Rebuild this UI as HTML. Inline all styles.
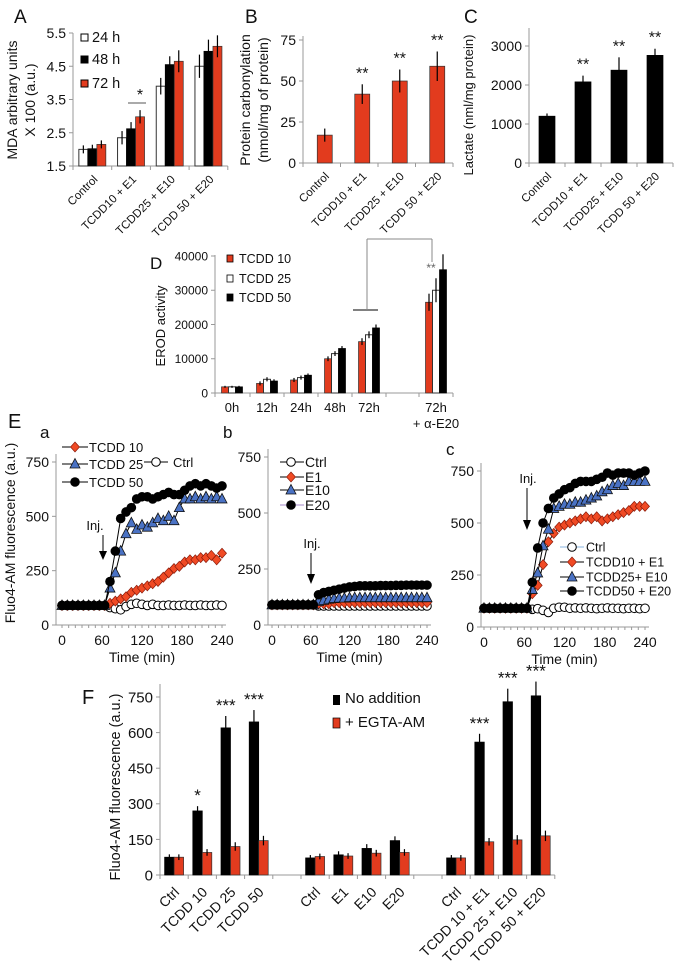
<!DOCTYPE html>
<html><head><meta charset="utf-8"><style>
html,body{margin:0;padding:0;background:#fff;}
svg{display:block;font-family:"Liberation Sans",Arial,sans-serif;}
</style></head><body>
<svg id="fig" width="675" height="973" viewBox="0 0 675 973" xmlns="http://www.w3.org/2000/svg"></svg>
<script>
// ---------- DATA ----------
const aCats=["Control","TCDD10 + E1","TCDD25 + E10","TCDD 50 + E20"];
const a24=[2.0,2.35,3.9,4.5], a48=[2.02,2.62,4.55,4.95], a72=[2.15,2.98,4.65,5.1];
const a24e=[0.12,0.2,0.25,0.35], a48e=[0.12,0.2,0.25,0.35], a72e=[0.12,0.2,0.33,0.33];
const aTicks=[1.5,2.5,3.5,4.5,5.5];
const bVals=[17,42,50,59], bErr=[4,6,7,9];
const bTicks=[0,25,50,75];
const cVals=[1200,2080,2380,2760], cErr=[70,160,330,170];
const cTicks=[0,1000,2000,3000];
const dCats=["0h","12h","24h","48h","72h"];
const d10=[1800,2800,3800,10000,15000,26500], d25=[1800,4000,4500,11500,17000,30000], d50=[1800,3500,5200,13000,19000,36000];
const d10e=[300,600,600,700,1000,2500], d25e=[300,600,600,700,1000,3500], d50e=[300,500,500,700,1000,4500];
const dTicks=[0,10000,20000,30000,40000];
const eTimes=[0,8,16,24,32,40,48,56,64,72,80,88,96,104,112,120,128,136,144,152,160,168,176,184,192,200,208,216,224,232,240];
const eTicks=[0,60,120,180,240], eYTicks=[0,250,500,750];
const B9=[90,90,90,90,90,90,90,90,90];
const aT50=B9.concat([200,340,490,520,540,580,590,590,580,590,600,610,600,600,620,640,650,640,650,640,630,640]);
const aT25=B9.concat([170,240,340,420,470,440,460,450,470,490,480,500,480,540,580,580,590,580,590,580,590,580]);
const aT10=B9.concat([100,110,120,130,150,160,170,180,190,200,220,240,260,270,290,300,300,310,310,320,300,330]);
const aCtrl=B9.concat([80,75,70,85,95,100,95,90,95,90,90,92,90,90,92,90,90,92,90,90,92,90]);
const bCtrl=B9.concat([85,85,85,85,85,85,85,85,85,85,85,85,85,85,85,85,85,85,85,85,85,85]);
const bE1=B9.concat([95,95,95,100,100,100,100,100,100,100,100,100,100,100,100,100,100,100,100,100,100,100]);
const bE10=B9.concat([105,110,115,118,120,120,122,122,122,122,122,122,122,122,122,122,122,122,122,122,122,122]);
const bE20=B9.concat([135,145,150,155,160,165,170,172,175,175,175,175,176,176,176,177,177,178,178,178,178,178]);
const cCtrl=B9.concat([85,88,80,70,90,95,95,90,92,90,92,90,88,90,92,90,90,88,90,90,88,90]);
const cT10=B9.concat([160,200,300,410,450,480,490,500,510,520,530,520,530,510,520,530,540,550,560,580,580,580]);
const cT25=B9.concat([180,260,390,470,570,580,590,590,600,600,610,620,630,650,660,680,690,680,700,700,700,700]);
const cT50=B9.concat([215,380,500,570,620,640,660,670,690,700,700,700,710,720,740,730,740,740,740,730,740,750]);
const fCats=["Ctrl","TCDD 10","TCDD 25","TCDD 50","","Ctrl","E1","E10","E20","","Ctrl","TCDD 10 + E1","TCDD 25 + E10","TCDD 50 + E20"];
const fNo=[75,270,620,645,null,72,85,112,145,null,72,560,730,755];
const fEg=[75,95,120,145,null,78,80,92,95,null,72,140,148,165];
const fNoE=[12,20,50,50,null,12,15,18,18,null,12,35,55,60];
const fEgE=[12,14,18,20,null,12,12,14,14,null,12,16,20,22];
const fStars=["","*","***","***","","","","","","","","***","***","***"];
const fTicks=[0,150,300,450,600,750];

// ---------- HELPERS ----------
const S=document.getElementById('fig'), NS='http://www.w3.org/2000/svg';
const RED='#e23b1e';
function mk(tag,attrs,name,txt){
  const el=document.createElementNS(NS,tag);
  for(const k in attrs) el.setAttribute(k,attrs[k]);
  
  
  if(txt!==undefined) el.textContent=txt;
  S.appendChild(el); return el;
}
function ln(x1,y1,x2,y2,name,c,w){return mk('line',{x1,y1,x2,y2,stroke:c||'#000','stroke-width':w||1},name);}
function tx(x,y,s,size,name,anchor,extra){return mk('text',Object.assign({x,y,'font-size':size,'text-anchor':anchor||'start',fill:'#111'},extra||{}),name,s);}
function bar(x,y0,y1,w,fill,name){
  const top=Math.min(y0,y1),h=Math.abs(y0-y1);
  return mk('rect',{x:x-w/2,y:top,width:w,height:h,fill,stroke:fill==='#000'?'#000':'#333','stroke-width':fill==='#fff'?1:0.7},name);
}
function err(x,yv,ye,name){ln(x,ye,x,yv,name,'#000',1.2);}
function yAxis(x,yTop,yBot,ticks,sc,name,fmt,size,tickLen){
  ln(x,yTop,x,yBot,name+'-line','#999',1);
  ticks.forEach(t=>{const y=sc(t);ln(x-(tickLen||4),y,x,y,name+'-tick','#999',1);
    tx(x-(tickLen||4)-3,y+size*0.36,fmt?fmt(t):String(t),size,name+'-label','end');});
}
function rotLabel(x,y,s,size,name,italic){
  return mk('text',{x,y,'font-size':size,'text-anchor':'end',fill:'#111',transform:`rotate(-45 ${x} ${y})`,'font-style':italic?'italic':'normal'},name,s);
}
function vlabel(x,y,s,size,name){return mk('text',{x,y,'font-size':size,'text-anchor':'middle',fill:'#111',transform:`rotate(-90 ${x} ${y})`},name,s);}

// ---------- PANEL A ----------
(function(){
  const sc=v=>166-(v-1.5)/4*133, x0=73, gw=38.7, bw=9;
  tx(14,23,'A',19,'panel-a-letter');
  yAxis(x0,33,166,aTicks,sc,'a-y-axis',t=>t.toFixed(1),14,4);
  ln(x0,166,x0+gw*4,166,'a-x-axis','#999');
  for(let i=0;i<=4;i++) ln(x0+gw*i,166,x0+gw*i,170,'a-x-tick','#999');
  aCats.forEach((c,i)=>{
    const cx=x0+gw*(i+0.5);
    [[a24,a24e,'#fff','24h'],[a48,a48e,'#000','48h'],[a72,a72e,RED,'72h']].forEach((s,j)=>{
      const bx=cx+(j-1)*bw;
      bar(bx,sc(1.5),sc(s[0][i]),bw,s[2],'a-bar-'+s[3]);
      err(bx,sc(s[0][i]-s[1][i]),sc(s[0][i]+s[1][i]),'a-error-bar');
    });
    rotLabel(cx+6,180,c,11.5,'a-category-label');
  });
  ln(128,103,146,103,'a-significance-line','#555');
  tx(140,100,'*',16,'a-significance-star','middle');
  [['#fff','24 h',40],['#000','48 h',62],[RED,'72 h',86]].forEach(l=>{
    mk('rect',{x:81,y:l[2]-6,width:7,height:7,fill:l[0],stroke:'#000','stroke-width':1},'a-legend-swatch');
    tx(92,l[2]+2,l[1],14.5,'a-legend-entry');
  });
  vlabel(17,100,'MDA arbitrary units',14,'a-y-axis-title');
  vlabel(35,100,'X 100 (a.u.)',14,'a-y-axis-title');
})();

// ---------- PANEL B ----------
(function(){
  const sc=v=>163-v/75*123, x0=303, gw=37.5, bw=15;
  tx(245,23,'B',19,'panel-b-letter');
  yAxis(x0,36,163,bTicks,sc,'b-y-axis',null,14,4);
  ln(x0,163,x0+gw*4,163,'b-x-axis','#999');
  for(let i=0;i<=4;i++) ln(x0+gw*i,163,x0+gw*i,167,'b-x-tick','#999');
  bVals.forEach((v,i)=>{
    const cx=x0+gw*(i+0.5)+3;
    bar(cx,sc(0),sc(v),bw,RED,'b-bar');
    err(cx,sc(v-bErr[i]),sc(v+bErr[i]),'b-error-bar');
    if(i>0) tx(cx,sc(v+bErr[i])-6,'**',16,'b-significance-stars','middle');
    rotLabel(cx+5,177,aCats[i],11.5,'b-category-label');
  });
  vlabel(250,100,'Protein carbonylation',14,'b-y-axis-title');
  vlabel(268,100,'(nmol/mg of protein)',14,'b-y-axis-title');
})();

// ---------- PANEL C ----------
(function(){
  const sc=v=>163-v/3000*117, x0=529, gw=36, bw=16;
  tx(464,23,'C',19,'panel-c-letter');
  yAxis(x0,28,163,cTicks,sc,'c-y-axis',null,14,4);
  ln(x0,163,x0+gw*4,163,'c-x-axis','#999');
  for(let i=0;i<=4;i++) ln(x0+gw*i,163,x0+gw*i,167,'c-x-tick','#999');
  cVals.forEach((v,i)=>{
    const cx=x0+gw*(i+0.5);
    bar(cx,sc(0),sc(v),bw,'#000','c-bar');
    err(cx,sc(v-cErr[i]),sc(v+cErr[i]),'c-error-bar');
    if(i>0) tx(cx,sc(v+cErr[i])-6,'**',16,'c-significance-stars','middle');
    rotLabel(cx+5,177,aCats[i],11.5,'c-category-label');
  });
  vlabel(473,105,'Lactate (nml/mg protein)',13,'c-y-axis-title');
})();

// ---------- PANEL D ----------
(function(){
  const sc=v=>393-v/40000*137, x0=215, gw=34, bw=7;
  tx(150,269,'D',17,'panel-d-letter');
  yAxis(x0,255,393,dTicks,sc,'d-y-axis',null,12,4);
  ln(x0,393,453,393,'d-x-axis','#999');
  [215,250,284,318,352,386,419,453].forEach(x=>ln(x,393,x,397,'d-x-tick','#999'));
  const centers=[232,267,301,335,369,436];
  centers.forEach((cx,i)=>{
    [[d10,d10e,RED,'tcdd10'],[d25,d25e,'#fff','tcdd25'],[d50,d50e,'#000','tcdd50']].forEach((s,j)=>{
      const bx=cx+(j-1)*bw;
      bar(bx,sc(0),sc(s[0][i]),bw,s[2],'d-bar-'+s[3]);
      err(bx,sc(s[0][i]-s[1][i]),sc(s[0][i]+s[1][i]),'d-error-bar');
    });
    if(i<5) tx(cx,412,dCats[i],13,'d-category-label','middle');
  });
  tx(436,412,'72h',13,'d-category-label','middle');
  tx(436,428,'+ α-E20',13,'d-category-label','middle');
  ln(353,310,378,310,'d-bracket-line','#000');
  ln(367,310,367,239,'d-bracket-line','#888');
  ln(367,239,432,239,'d-bracket-line','#888');
  ln(432,239,432,262,'d-bracket-line','#888');
  tx(431,272,'**',12,'d-significance-stars','middle',{fill:'#666'});
  [[RED,'TCDD 10',261],['#fff','TCDD 25',281],['#000','TCDD 50',300]].forEach(l=>{
    mk('rect',{x:227,y:l[2]-6,width:6,height:7,fill:l[0],stroke:'#000','stroke-width':0.8},'d-legend-swatch');
    tx(239,l[2]+2,l[1],12.5,'d-legend-entry');
  });
  vlabel(165,326,'EROD activity',13,'d-y-axis-title');
})();

// ---------- PANEL E ----------
function marker(type,x,y,name){
  if(type==='circ-w') return mk('circle',{cx:x,cy:y,r:4.3,fill:'#fff',stroke:'#000','stroke-width':1},name);
  if(type==='circ-b') return mk('circle',{cx:x,cy:y,r:4.8,fill:'#000'},name);
  if(type==='dia') return mk('polygon',{points:`${x},${y-5} ${x+4.5},${y} ${x},${y+5} ${x-4.5},${y}`,fill:'#f04a24',stroke:'#8a1a0a','stroke-width':0.7},name);
  if(type==='tri') return mk('polygon',{points:`${x},${y-5.5} ${x+5},${y+4} ${x-5},${y+4}`,fill:'#4a72c4',stroke:'#111','stroke-width':0.8},name);
}
function series(vals,xs,ys,type,name,lineCol){
  const pts=vals.map((v,i)=>[xs(eTimes[i]),ys(v)]);
  mk('polyline',{points:pts.map(p=>p.join(',')).join(' '),fill:'none',stroke:lineCol||'#000','stroke-width':1},name+'-line');
  pts.forEach(p=>marker(type,p[0],p[1],name+'-point'));
}
function eAxes(axX,x0,x1,y0,y750,p){
  const xs=t=>x0+t/240*(x1-x0), ys=v=>y0-v/750*(y0-y750);
  ln(axX,y750-8,axX,y0,p+'-y-axis','#999');
  eYTicks.forEach(t=>{ln(axX-4,ys(t),axX,ys(t),p+'-y-tick','#999');tx(axX-7,ys(t)+5,String(t),14,p+'-y-label','end');});
  ln(axX,y0,x1+4,y0,p+'-x-axis','#999');
  for(let t=0;t<=240;t+=10) ln(xs(t),y0,xs(t),y0+3,p+'-x-tick','#999');
  eTicks.forEach(t=>tx(xs(t),y0+20,String(t),14,p+'-x-label','middle'));
  tx((x0+x1)/2,y0+37,'Time (min)',14,p+'-x-axis-title','middle');
  return [xs,ys];
}
(function(){
  tx(8,428,'E',20,'panel-e-letter');
  vlabel(15,533,'Fluo4-AM fluorescence (a.u.)',14,'e-y-axis-title');
  // a
  tx(40,438,'a',17,'panel-ea-letter');
  let [xs,ys]=eAxes(56,62,222,625,462,'ea');
  series(aCtrl,xs,ys,'circ-w','ea-ctrl');
  series(aT10,xs,ys,'dia','ea-tcdd10');
  series(aT25,xs,ys,'tri','ea-tcdd25');
  series(aT50,xs,ys,'circ-b','ea-tcdd50');
  tx(95,530,'Inj.',13,'ea-injection-label','middle');
  ln(103,535,103,556,'ea-injection-arrow'); mk('polygon',{points:'99,551 107,551 103,560'},'ea-injection-arrowhead');
  [['dia','TCDD 10',447],['tri','TCDD 25',464],['circ-b','TCDD 50',482]].forEach(l=>{
    ln(62,l[2],88,l[2],'ea-legend-line'); marker(l[0],75,l[2],'ea-legend-marker'); tx(89,l[2]+5,l[1],13,'ea-legend-entry');
  });
  ln(144,462,168,462,'ea-legend-line'); marker('circ-w',156,462,'ea-legend-marker'); tx(173,467,'Ctrl',13,'ea-legend-entry');
  // b
  tx(223,438,'b',17,'panel-eb-letter');
  [xs,ys]=eAxes(268,272,427,625,457,'eb');
  series(bCtrl,xs,ys,'circ-w','eb-ctrl');
  series(bE1,xs,ys,'dia','eb-e1');
  series(bE10,xs,ys,'tri','eb-e10');
  series(bE20,xs,ys,'circ-b','eb-e20');
  tx(312,548,'Inj.',13,'eb-injection-label','middle');
  ln(311,553,311,579,'eb-injection-arrow'); mk('polygon',{points:'307,574 315,574 311,584'},'eb-injection-arrowhead');
  [['circ-w','Ctrl',462],['dia','E1',477],['tri','E10',490],['circ-b','E20',505]].forEach(l=>{
    ln(280,l[2],304,l[2],'eb-legend-line',l[0]==='circ-b'?'#a58ac9':'#000'); marker(l[0],291,l[2],'eb-legend-marker'); tx(305,l[2]+5,l[1],14,'eb-legend-entry');
  });
  // c
  tx(446,455,'c',17,'panel-ec-letter');
  [xs,ys]=eAxes(481,484,645,627,471,'ec');
  series(cCtrl,xs,ys,'circ-w','ec-ctrl');
  series(cT10,xs,ys,'dia','ec-tcdd10');
  series(cT25,xs,ys,'tri','ec-tcdd25');
  series(cT50,xs,ys,'circ-b','ec-tcdd50');
  tx(528,483,'Inj.',13,'ec-injection-label','middle');
  ln(527,488,527,525,'ec-injection-arrow'); mk('polygon',{points:'523,520 531,520 527,530'},'ec-injection-arrowhead');
  [['circ-w','Ctrl',547],['dia','TCDD10 + E1',562],['tri','TCDD25+ E10',577],['circ-b','TCDD50 + E20',591]].forEach(l=>{
    ln(560,l[2],584,l[2],'ec-legend-line',l[0]==='circ-w'?'#8ab4e0':'#000'); marker(l[0],572,l[2],'ec-legend-marker'); tx(586,l[2]+4.5,l[1],12.5,'ec-legend-entry');
  });
})();

// ---------- PANEL F ----------
(function(){
  const sc=v=>875-v/750*178, x0=160, sw=28.2, bw=9.5;
  tx(82,704,'F',20,'panel-f-letter');
  yAxis(x0,684,875,fTicks,sc,'f-y-axis',null,15,4);
  ln(x0,875,x0+sw*14,875,'f-x-axis','#999');
  for(let i=0;i<=14;i++) ln(x0+sw*i,875,x0+sw*i,879,'f-x-tick','#999');
  fCats.forEach((c,i)=>{
    if(fNo[i]===null) return;
    const cx=x0+sw*(i+0.5);
    bar(cx-bw/2,sc(0),sc(fNo[i]),bw,'#000','f-bar-no-addition');
    err(cx-bw/2,sc(fNo[i]),sc(fNo[i]+fNoE[i]),'f-error-bar');
    bar(cx+bw/2,sc(0),sc(fEg[i]),bw,RED,'f-bar-egta-am');
    err(cx+bw/2,sc(fEg[i]-fEgE[i]),sc(fEg[i]+fEgE[i]),'f-error-bar');
    if(fStars[i]) tx(cx-bw/2,sc(fNo[i]+fNoE[i])-5,fStars[i],17,'f-significance-stars','middle');
    rotLabel(cx+6,893,c,14,'f-category-label',false);
  });
  mk('rect',{x:333,y:695,width:7,height:10,fill:'#000'},'f-legend-swatch');
  tx(345,703,'No addition',15,'f-legend-entry');
  mk('rect',{x:333,y:718,width:7,height:10,fill:RED,stroke:'#000','stroke-width':0.7},'f-legend-swatch');
  tx(345,727,'+ EGTA-AM',15,'f-legend-entry');
  vlabel(120,787,'Fluo4-AM fluorescence (a.u.)',14.5,'f-y-axis-title');
})();
</script>
</body></html>
